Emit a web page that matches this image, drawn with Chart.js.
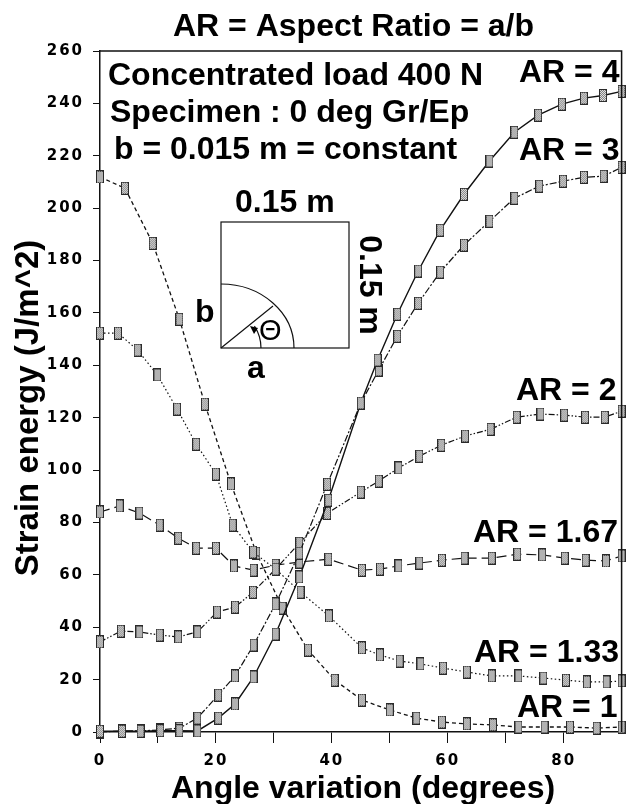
<!DOCTYPE html>
<html lang="en">
<head>
<meta charset="UTF-8">
<title>Strain energy vs angle variation</title>
<script src="https://cdn.jsdelivr.net/npm/chart.js@4"></script>
<style>
	html,body{margin:0;padding:0;background:#fff;}
	canvas{display:block;}
</style>
</head>
<body>
<canvas id="chart" width="627" height="804"></canvas>
<script>
// values, one angle list and one energy list per curve
var angleAR4=[0,3.8,7.0,10.4,13.7,16.8,20.4,23.3,26.5,30.3,34.4,39.4,45.0,47.9,51.3,54.9,58.7,62.8,67.2,71.5,75.6,79.7,83.5,86.8,90];
var energyAR4=[0.3,0.3,0.3,0.5,0.5,0.4,5.3,10.7,21,37.4,59.2,88.5,125.6,142,159.5,176,191.6,205.3,218,229,235.5,239.7,242,243,244.6];

var angleAR3=[0,3.8,7.0,10.4,13.7,16.8,20.4,23.3,26.5,30.3,34.4,39.2,45.0,48.1,51.3,54.9,58.7,62.8,67.2,71.5,75.8,79.9,83.5,86.9,90];
var energyAR3=[0,0.4,0.4,0.8,1.5,5.3,14.1,21.4,33.2,48.9,68.3,94.6,125.6,138.2,151.1,163.7,175.6,185.9,195,203.8,208.4,210.3,211.8,212.2,215.6];

var angleAR2=[0,3.6,6.8,10.3,13.5,16.8,20.2,23.3,26.4,30.3,34.4,39.2,45.0,48.1,51.5,55.1,58.9,63.0,67.4,71.9,76,80.1,83.7,87.1,90];
var energyAR2=[34.4,38.5,38.2,37,36.3,38.2,45.8,47.7,53.4,62.2,72.1,83.5,91.6,95.8,100.8,105.3,109.5,113,115.6,120.2,121.4,121,120.2,120.2,122.5];

var angleAR167=[0,3.4,6.8,10.3,13.5,16.6,20,23.1,26.5,30.3,34.4,39.4,45.2,48.3,51.5,55.1,59,62.9,67.6,72,76.3,80.2,83.8,87.3,90];
var energyAR167=[84,86.3,83.6,79,74,70.2,70.2,63.4,61.8,63.7,64.9,66,61.8,62.2,63.4,64.5,65.6,66.4,66.4,67.9,67.6,66.4,65.6,65.3,67.2];

var angleAR133=[0,3.1,6.5,9.9,13.3,16.6,20,22.9,26.4,30.3,34.6,39.5,45.2,48.3,51.7,55.3,59.2,63.3,67.6,72.2,76.5,80.4,84,87.4,90];
var energyAR133=[152.3,152.3,145.8,136.3,123.3,109.9,98.5,79,68.7,62.2,53.4,44.3,32.1,29.4,27.1,26,24.4,22.9,21.4,21.4,20.6,19.8,19.1,19.1,19.5];

var angleAR1=[0,4.3,9.1,13.7,18.1,22.6,27,31.5,35.9,40.5,45.2,50,54.6,59,63.3,67.8,72.2,76.7,81.1,85.7,90];
var energyAR1=[211.9,207.6,186.6,157.6,125.2,94.7,68.3,47.3,31.3,19.8,12.2,8.4,5.3,3.8,3.1,2.7,1.9,1.9,1.9,1.5,1.9];

var xLabels=[0,20,40,60,80];

var INK="#111";
var HEAD="bold 32px 'Liberation Sans'";

// tall speckled box used as the marker
function makeMarker(){
	var c=document.createElement("canvas");
	c.width=8;c.height=13;
	var g=c.getContext("2d");
	g.fillStyle="#2a2a2a";
	g.fillRect(0,0,8,13);
	g.fillStyle="#777";
	g.fillRect(1,1,6,11);
	g.fillStyle="#eee";
	for(var y=1;y<12;y++){
		for(var x=1;x<7;x++){
			if((x+y)%2==0) g.fillRect(x,y,1,1);
		}
	}
	return c;
}
var marker=makeMarker();

function series(label,xs,ys,dash,width){
	return {
		label:label,
		data:xs.map(function(x,i){return {x:x,y:ys[i]};}),
		borderColor:INK,
		borderWidth:width,
		borderDash:dash,
		showLine:true,
		tension:0,
		pointStyle:marker,
		clip:false
	};
}

var notes=[
	["AR = Aspect Ratio = a/b",173,36],
	["Concentrated load 400 N",108,85],
	["Specimen : 0 deg Gr/Ep",110,122],
	["b = 0.015 m = constant",114,159],
	["AR = 4",519,82],
	["AR = 3",519,160],
	["0.15 m",235,212],
	["b",195,322],
	["a",247,378],
	["AR = 2",516,400],
	["AR = 1.67",473,542],
	["AR = 1.33",474,662],
	["AR = 1",517,717],
	["Angle variation (degrees)",171,798]
];

// things the plot has besides the curves: frame, labels on the plot, the little specimen sketch
var extras={
	id:"extras",
	beforeDraw:function(chart){
		// the tick digits in the picture are widely spaced
		chart.ctx.letterSpacing="2px";
	},
	afterDatasetsDraw:function(chart){
		var ctx=chart.ctx,a=chart.chartArea;
		ctx.save();
		ctx.letterSpacing="0px";
		ctx.strokeStyle=INK;
		ctx.lineWidth=1.5;
		ctx.beginPath();
		ctx.moveTo(a.left,a.top);
		ctx.lineTo(a.right,a.top);
		ctx.lineTo(a.right,a.bottom);
		ctx.stroke();

		ctx.fillStyle="#000";
		ctx.font=HEAD;
		ctx.textAlign="left";
		ctx.textBaseline="alphabetic";
		notes.forEach(function(n){
			ctx.fillText(n[0],n[1],n[2]);
		});

		ctx.save();
		ctx.translate(360,285);
		ctx.rotate(Math.PI/2);
		ctx.textAlign="center";
		ctx.fillText("0.15 m",0,0);
		ctx.restore();

		ctx.save();
		ctx.translate(38,408);
		ctx.rotate(-Math.PI/2);
		ctx.textAlign="center";
		ctx.font="bold 33px 'Liberation Sans'";
		ctx.fillText("Strain energy (J/m^2)",0,0);
		ctx.restore();

		// specimen sketch
		var ox=221,oy=348;
		ctx.lineWidth=1.2;
		ctx.strokeRect(ox,222,128,126);
		ctx.beginPath();
		ctx.ellipse(ox,oy,73,64,0,-Math.PI/2,0);
		ctx.stroke();
		ctx.beginPath();
		ctx.moveTo(ox,oy);
		ctx.lineTo(273,306);
		ctx.stroke();
		ctx.beginPath();
		ctx.arc(ox,oy,40,-0.58,0);
		ctx.stroke();
		ctx.beginPath();
		ctx.moveTo(250,326);
		ctx.lineTo(258,328);
		ctx.lineTo(254,334);
		ctx.closePath();
		ctx.fill();
		ctx.font="29px 'Liberation Sans'";
		ctx.fillText("\u0398",259,340);
		ctx.restore();
	}
};

new Chart(document.getElementById("chart"),{
	type:"scatter",
	data:{
		datasets:[
			series("AR = 4",angleAR4,energyAR4,[],1.4),
			series("AR = 3",angleAR3,energyAR3,[7,2,2,2],1.2),
			series("AR = 2",angleAR2,energyAR2,[6,2,1.5,2,1.5,2],1.2),
			series("AR = 1.67",angleAR167,energyAR167,[10,5],1.2),
			series("AR = 1.33",angleAR133,energyAR133,[1.5,2.5],1.2),
			series("AR = 1",angleAR1,energyAR1,[4,3],1.3)
		]
	},
	plugins:[extras],
	options:{
		responsive:false,
		animation:false,
		layout:{padding:{top:51,right:1}},
		plugins:{
			legend:{display:false},
			tooltip:{enabled:false}
		},
		scales:{
			x:{
				type:"linear",
				min:0,max:90,
				afterFit:function(s){s.height=72;s.paddingRight=0;s.paddingLeft=0;},
				border:{display:true,color:INK,width:1.5},
				grid:{
					drawOnChartArea:false,
					tickLength:11,
					tickColor:function(c){return c.tick&&c.tick.value==90?"transparent":INK;}
				},
				ticks:{
					stepSize:10,
					autoSkip:false,
					maxRotation:0,
					padding:9,
					color:"#000",
					font:{family:"'DejaVu Sans'",size:15,weight:"bold"},
					callback:function(v){return xLabels.indexOf(v)>=0?String(v):"";}
				}
			},
			y:{
				type:"linear",
				min:0,max:260,
				afterFit:function(s){s.width=100;},
				border:{display:true,color:INK,width:1.5},
				grid:{drawOnChartArea:false,tickLength:7,tickColor:INK},
				ticks:{
					stepSize:20,
					padding:9,
					color:"#000",
					font:{family:"'DejaVu Sans'",size:15,weight:"bold"}
				}
			}
		}
	}
});
</script>
</body>
</html>
